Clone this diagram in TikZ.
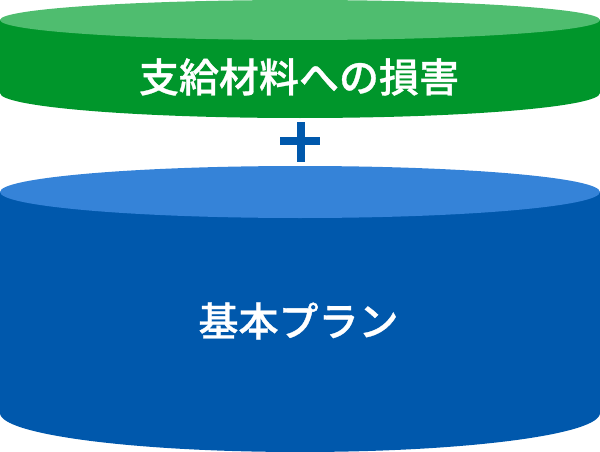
\documentclass[tikz,border=0pt]{standalone}
\usepackage{fontspec}
\newfontfamily\cjk[FakeBold=0.8]{Noto Sans CJK JP Medium}
\definecolor{gtop}{HTML}{4FBD6F}
\definecolor{gside}{HTML}{00962B}
\definecolor{btop}{HTML}{3583D8}
\definecolor{bside}{HTML}{0058AC}
\tikzset{lab/.style={text=white,font=\cjk\fontsize{40pt}{42pt}\selectfont,inner sep=0pt}}
\begin{document}
\begin{tikzpicture}[x=1pt,y=-1pt]
\useasboundingbox (0,0) rectangle (600,452);
\fill[gside] (0,20) -- (0,93) arc[x radius=300,y radius=25,start angle=180,end angle=0] -- (600,20) -- cycle;
\fill[gtop] (300,20) ellipse[x radius=300,y radius=20];
\fill[bside] (0,192) -- (0,413) arc[x radius=300,y radius=39,start angle=180,end angle=0] -- (600,192) -- cycle;
\fill[btop] (300,192) ellipse[x radius=300,y radius=26];
\fill[bside] (280,137.2) rectangle (320,144.8);
\fill[bside] (297.2,122) rectangle (304.8,162);
\node[lab] (a) at (299,77) {支給材料への損害};
\node[lab] (b) at (298.5,321) {基本プラン};
\end{tikzpicture}
\end{document}
